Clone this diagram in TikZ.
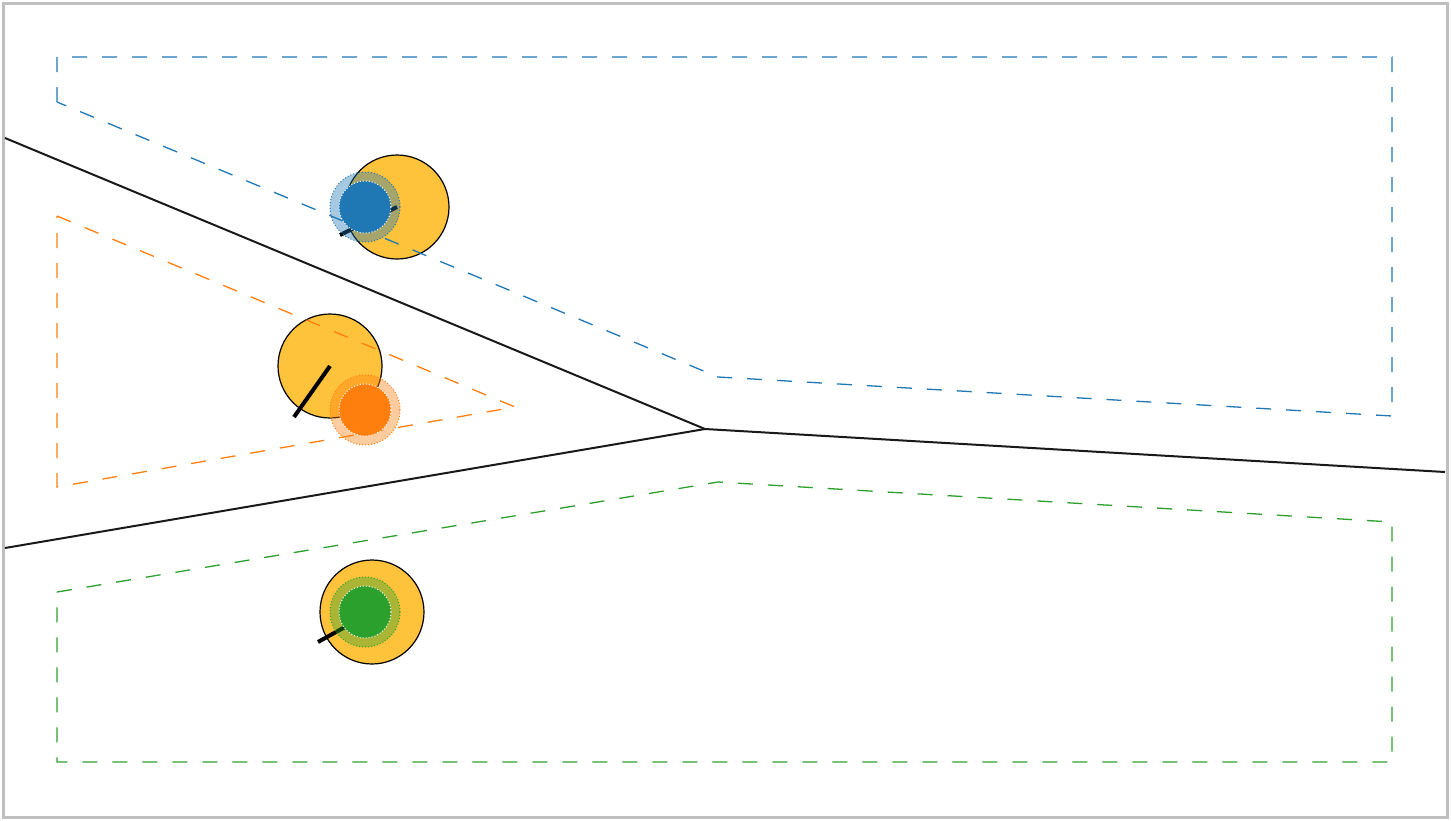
\documentclass[tikz,border=0pt]{standalone}
\usetikzlibrary{calc}
\definecolor{tblue}{HTML}{1F77B4}
\definecolor{torange}{HTML}{FF7F0E}
\definecolor{tgreen}{HTML}{2CA02C}
\definecolor{ryellow}{HTML}{FFC23B}
\definecolor{frame}{HTML}{BFBFBF}
\begin{document}
\begin{tikzpicture}[x=1pt,y=-1pt,
  wall/.style={line width=2pt,draw=black!90},
  zone/.style={line width=1.3pt,dash pattern=on 15pt off 15pt},
  robot/.style={circle,draw=black,line width=1.2pt,fill=ryellow,minimum size=104pt,inner sep=0pt},
  heading/.style={line width=4pt,draw=black},
  halo/.style={circle,minimum size=70pt,inner sep=0pt,fill opacity=0.4,draw opacity=1,line width=1pt,dotted},
  core/.style={circle,minimum size=52pt,inner sep=0pt,draw=white,line width=1pt,dotted}]
\useasboundingbox (0,0) rectangle (1451,820);
\draw[frame,line width=3pt] (3,3) rectangle (1447,817);
% walls
\coordinate (wA) at (5,138);
\coordinate (wB) at (5,548);
\coordinate (wJ) at (705,429);
\coordinate (wC) at (1445,472);
\draw[wall] (wA) -- (wJ) -- (wC);
\draw[wall] (wB) -- (wJ);
% robots
\node[robot] (rb) at (397,207) {};
\node[robot] (ro) at (330,366) {};
\node[robot] (rg) at (372,612) {};
\coordinate (hb) at (340,235);
\coordinate (ho) at (294,417);
\coordinate (hg) at (318,642);
\draw[heading] (rb.center) -- (hb);
\draw[heading] (ro.center) -- (ho);
\draw[heading] (rg.center) -- (hg);
% zones
\coordinate (b1) at (57,102);
\coordinate (b2) at (57,57);
\coordinate (b3) at (1392,57);
\coordinate (b4) at (1392,416);
\coordinate (b5) at (718,377);
\draw[zone,tblue] (b1) -- (b2) -- (b3) -- (b4) -- (b5) -- cycle;
\coordinate (o1) at (57,216);
\coordinate (o2) at (515,407);
\coordinate (o3) at (57,487);
\draw[zone,torange] (o1) -- (o2) -- (o3) -- cycle;
\coordinate (g1) at (57,592);
\coordinate (g2) at (718,482);
\coordinate (g3) at (1392,522);
\coordinate (g4) at (1392,762);
\coordinate (g5) at (57,762);
\draw[zone,tgreen] (g1) -- (g2) -- (g3) -- (g4) -- (g5) -- cycle;
% targets
\node[halo,fill=tblue,draw=tblue] (tb) at (365,207) {};
\node[core,fill=tblue] (cb) at (tb.center) {};
\node[halo,fill=torange,draw=torange] (to) at (365,410) {};
\node[core,fill=torange] (co) at (to.center) {};
\node[halo,fill=tgreen,draw=tgreen] (tg) at (365,612) {};
\node[core,fill=tgreen] (cg) at (tg.center) {};
\end{tikzpicture}
\end{document}
